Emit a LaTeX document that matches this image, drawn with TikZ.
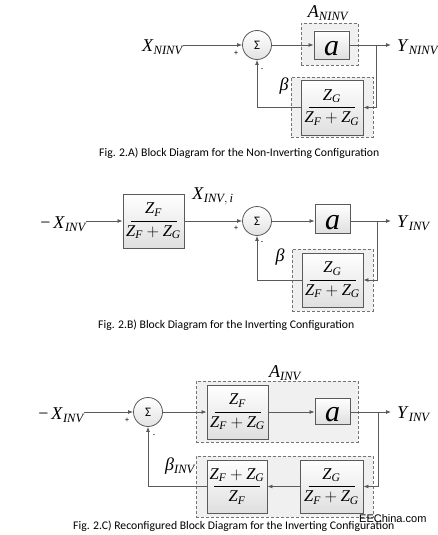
\documentclass[tikz,border=0pt]{standalone}
\usepackage{fix-cm}
\usepackage{amsmath}
\usepackage{fontspec}
\setmainfont{Liberation Serif}
\newfontfamily\capfont{Carlito}
\newfontfamily\wmfont{Liberation Sans}
\usetikzlibrary{arrows.meta,calc}
\definecolor{lc}{HTML}{5A5A5A}
\newcommand{\fZ}[1]{\textit{Z}_{\textit{#1}}}
\newcommand{\fr}[2]{$\displaystyle\frac{\makebox[46pt]{$#1$}}{\makebox[46pt]{$#2$}}$}
\newcommand{\fz}{\fontsize{16.5}{18}\selectfont}
\newcommand{\lb}{\fontsize{18}{20}\selectfont}
\tikzset{
  ln/.style={draw=lc, line width=0.8pt},
  arr/.style={ln, -{Latex[length=5pt,width=4pt]}},
  blk/.style={draw=lc, line width=0.9pt, top color=white, bottom color=gray!25, inner sep=0pt},
  dbox/.style={draw=lc!85, dashed, dash pattern=on 3pt off 2pt, line width=0.8pt, fill=gray!12, inner sep=0pt},
  sumc/.style={circle, draw=lc, line width=0.8pt, top color=white, bottom color=gray!22, minimum size=29pt, inner sep=0pt, font=\capfont\fontsize{13}{13}\selectfont},
  sgn/.style={font=\capfont\fontsize{8}{8}\selectfont, inner sep=0pt},
  captxt/.style={anchor=west, font=\capfont\fontsize{11.7}{13}\selectfont, inner sep=0pt},
  lab/.style={font=\lb, inner sep=0pt},
  abox/.style={blk, minimum width=35pt, font=\fontsize{30}{30}\selectfont}
}
\begin{document}
\begin{tikzpicture}[x=1pt,y=-1pt]
\useasboundingbox (0,0) rectangle (437,535);
% ---------- Panel A ----------
\node[dbox, minimum width=57pt, minimum height=42pt] (dA) at (329.5,44) {};
\node[abox, minimum height=28pt] (aA) at (331.5,45) {\textit{a}\vphantom{l}};
\node[dbox, minimum width=82pt, minimum height=60pt] (dbA) at (332,107) {};
\node[blk, minimum width=62pt, minimum height=55pt, font=\fz] (fA) at (332,107.5) {\fr{\fZ{G}}{\fZ{F}+\fZ{G}}};
\node[sumc] (sA) at (257,45) {Σ};
\node[lab, anchor=east] (xA) at (183,47) {\textit{X}$_{\textit{NINV}}$};
\node[lab, anchor=west] (yA) at (397,47) {\textit{Y}$_{\textit{NINV}}$};
\node[lab] (AA) at (328,13) {\textit{A}$_{\textit{NINV}}$};
\node[lab] (bA) at (284,86) {\textit{β}};
\node[sgn] (pA) at (236,53) {+};
\node[sgn] (mA) at (262,70) {-};
\coordinate (brA) at (376,45);
\coordinate (oA) at (391,45);
\draw[arr] (xA.east |- sA) -- (sA);
\draw[arr] (sA) -- (aA);
\draw[ln] (aA) -- (brA);
\draw[arr] (brA) -- (oA);
\draw[arr] (brA) |- (fA);
\draw[arr] (fA) -| (sA);
\node[captxt] (cA) at (99,153) {Fig. 2.A) Block Diagram for the Non-Inverting Configuration};
% ---------- Panel B ----------
\node[blk, minimum width=61pt, minimum height=54pt, font=\fz] (gB) at (153.5,221) {\fr{\fZ{F}}{\fZ{F}+\fZ{G}}};
\node[sumc] (sB) at (257,221) {Σ};
\node[abox, minimum height=29pt] (aB) at (332.5,219) {\textit{a}\vphantom{l}};
\node[dbox, minimum width=81pt, minimum height=62pt] (dbB) at (332.5,280) {};
\node[blk, minimum width=61pt, minimum height=54pt, font=\fz] (fB) at (332.5,280) {\fr{\fZ{G}}{\fZ{F}+\fZ{G}}};
\node[lab, anchor=east] (xB) at (86,224) {−\,\textit{X}$_{\textit{INV}}$};
\node[lab] (xiB) at (213,196) {\textit{X}$_{\textit{INV},\,\textit{i}}$};
\node[lab, anchor=west] (yB) at (397,223) {\textit{Y}$_{\textit{INV}}$};
\node[lab] (bB) at (280,257) {\textit{β}};
\node[sgn] (pB) at (236,228) {+};
\node[sgn] (mB) at (262,243) {-};
\coordinate (brB) at (377,221);
\coordinate (oB) at (391,221);
\draw[arr] (xB.east |- gB) -- (gB);
\draw[arr] (gB) -- (sB);
\draw[arr] (sB) -- (aB.west |- sB);
\draw[ln] (aB.east |- sB) -- (brB);
\draw[arr] (brB) -- (oB);
\draw[arr] (brB) |- (fB);
\draw[arr] (fB) -| (sB);
\node[captxt] (cB) at (98,325) {Fig. 2.B) Block Diagram for the Inverting Configuration};
% ---------- Panel C ----------
\node[dbox, minimum width=162pt, minimum height=61pt] (dC) at (277,411.5) {};
\node[blk, minimum width=61pt, minimum height=54pt, font=\fz] (gC) at (237.5,412) {\fr{\fZ{F}}{\fZ{F}+\fZ{G}}};
\node[abox, minimum height=26pt] (aC) at (332.5,411) {\textit{a}\vphantom{l}};
\node[dbox, minimum width=177pt, minimum height=61pt] (dbC) at (284.5,486.5) {};
\node[blk, minimum width=60pt, minimum height=53pt, font=\fz] (hC) at (237,486.5) {\fr{\fZ{F}+\fZ{G}}{\fZ{F}}};
\node[blk, minimum width=63pt, minimum height=53pt, font=\fz] (fC) at (331.5,486.5) {\fr{\fZ{G}}{\fZ{F}+\fZ{G}}};
\node[sumc] (sC) at (148,412) {Σ};
\node[lab, anchor=east] (xC) at (84,415) {−\,\textit{X}$_{\textit{INV}}$};
\node[lab, anchor=west] (yC) at (397,414) {\textit{Y}$_{\textit{INV}}$};
\node[lab] (AC) at (285,373) {\textit{A}$_{\textit{INV}}$};
\node[lab] (bC) at (180,466) {\textit{β}$_{\textit{INV}}$};
\node[sgn] (pC) at (127,420) {+};
\node[sgn] (mC) at (154,436) {-};
\coordinate (brC) at (378,412);
\coordinate (oC) at (391,412);
\draw[arr] (xC.east |- sC) -- (sC);
\draw[arr] (sC) -- (gC);
\draw[arr] (gC) -- (aC.west |- gC);
\draw[ln] (aC.east |- gC) -- (brC);
\draw[arr] (brC) -- (oC);
\draw[arr] (brC) |- (fC);
\draw[arr] (fC) -- (hC);
\draw[arr] (hC) -| (sC);
\node[captxt] (cC) at (73,526) {Fig. 2.C) Reconfigured Block Diagram for the Inverting Configuration};
\node[anchor=west, inner sep=0pt, font=\wmfont\fontsize{11}{11}\selectfont] (wm) at (359,519) {EEChina.com};
\end{tikzpicture}
\end{document}
